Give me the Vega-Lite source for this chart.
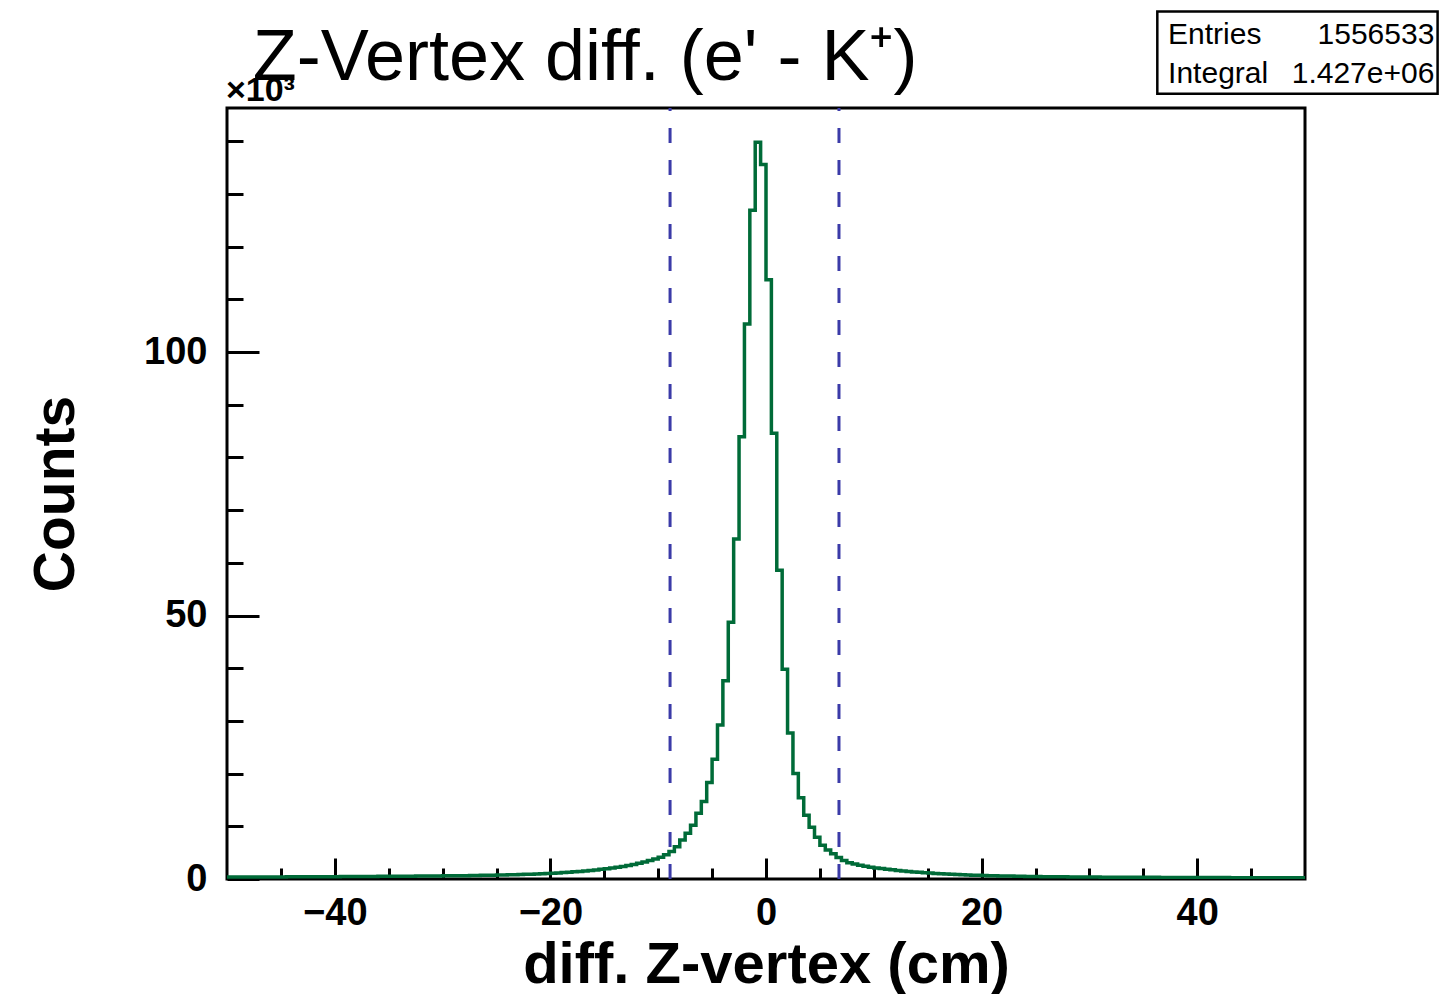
{
  "$schema": "https://vega.github.io/schema/vega-lite/v6.json",
  "width": 1078,
  "height": 771,
  "autosize": {"type": "none"},
  "padding": {"left": 227, "top": 108, "right": 136, "bottom": 115},
  "background": "white",
  "config": {"view": {"stroke": "black", "strokeWidth": 3}, "font": "Liberation Sans"},
  "datasets": {
    "hist": [
      {"lo":-50,"hi":-49.5,"counts":370},{"lo":-49.5,"hi":-49,"counts":370},{"lo":-49,"hi":-48.5,"counts":370},{"lo":-48.5,"hi":-48,"counts":380},
      {"lo":-48,"hi":-47.5,"counts":380},{"lo":-47.5,"hi":-47,"counts":380},{"lo":-47,"hi":-46.5,"counts":390},{"lo":-46.5,"hi":-46,"counts":390},
      {"lo":-46,"hi":-45.5,"counts":400},{"lo":-45.5,"hi":-45,"counts":400},{"lo":-45,"hi":-44.5,"counts":400},{"lo":-44.5,"hi":-44,"counts":410},
      {"lo":-44,"hi":-43.5,"counts":410},{"lo":-43.5,"hi":-43,"counts":420},{"lo":-43,"hi":-42.5,"counts":420},{"lo":-42.5,"hi":-42,"counts":430},
      {"lo":-42,"hi":-41.5,"counts":430},{"lo":-41.5,"hi":-41,"counts":440},{"lo":-41,"hi":-40.5,"counts":440},{"lo":-40.5,"hi":-40,"counts":450},
      {"lo":-40,"hi":-39.5,"counts":450},{"lo":-39.5,"hi":-39,"counts":460},{"lo":-39,"hi":-38.5,"counts":460},{"lo":-38.5,"hi":-38,"counts":470},
      {"lo":-38,"hi":-37.5,"counts":470},{"lo":-37.5,"hi":-37,"counts":480},{"lo":-37,"hi":-36.5,"counts":490},{"lo":-36.5,"hi":-36,"counts":490},
      {"lo":-36,"hi":-35.5,"counts":500},{"lo":-35.5,"hi":-35,"counts":510},{"lo":-35,"hi":-34.5,"counts":510},{"lo":-34.5,"hi":-34,"counts":520},
      {"lo":-34,"hi":-33.5,"counts":530},{"lo":-33.5,"hi":-33,"counts":540},{"lo":-33,"hi":-32.5,"counts":540},{"lo":-32.5,"hi":-32,"counts":550},
      {"lo":-32,"hi":-31.5,"counts":560},{"lo":-31.5,"hi":-31,"counts":570},{"lo":-31,"hi":-30.5,"counts":580},{"lo":-30.5,"hi":-30,"counts":590},
      {"lo":-30,"hi":-29.5,"counts":600},{"lo":-29.5,"hi":-29,"counts":610},{"lo":-29,"hi":-28.5,"counts":620},{"lo":-28.5,"hi":-28,"counts":630},
      {"lo":-28,"hi":-27.5,"counts":640},{"lo":-27.5,"hi":-27,"counts":660},{"lo":-27,"hi":-26.5,"counts":670},{"lo":-26.5,"hi":-26,"counts":690},
      {"lo":-26,"hi":-25.5,"counts":710},{"lo":-25.5,"hi":-25,"counts":730},{"lo":-25,"hi":-24.5,"counts":750},{"lo":-24.5,"hi":-24,"counts":770},
      {"lo":-24,"hi":-23.5,"counts":790},{"lo":-23.5,"hi":-23,"counts":820},{"lo":-23,"hi":-22.5,"counts":850},{"lo":-22.5,"hi":-22,"counts":880},
      {"lo":-22,"hi":-21.5,"counts":920},{"lo":-21.5,"hi":-21,"counts":960},{"lo":-21,"hi":-20.5,"counts":1000},{"lo":-20.5,"hi":-20,"counts":1050},
      {"lo":-20,"hi":-19.5,"counts":1100},{"lo":-19.5,"hi":-19,"counts":1160},{"lo":-19,"hi":-18.5,"counts":1220},{"lo":-18.5,"hi":-18,"counts":1290},
      {"lo":-18,"hi":-17.5,"counts":1360},{"lo":-17.5,"hi":-17,"counts":1440},{"lo":-17,"hi":-16.5,"counts":1530},{"lo":-16.5,"hi":-16,"counts":1620},
      {"lo":-16,"hi":-15.5,"counts":1720},{"lo":-15.5,"hi":-15,"counts":1830},{"lo":-15,"hi":-14.5,"counts":1950},{"lo":-14.5,"hi":-14,"counts":2080},
      {"lo":-14,"hi":-13.5,"counts":2220},{"lo":-13.5,"hi":-13,"counts":2380},{"lo":-13,"hi":-12.5,"counts":2560},{"lo":-12.5,"hi":-12,"counts":2760},
      {"lo":-12,"hi":-11.5,"counts":2980},{"lo":-11.5,"hi":-11,"counts":3220},{"lo":-11,"hi":-10.5,"counts":3500},{"lo":-10.5,"hi":-10,"counts":3800},
      {"lo":-10,"hi":-9.5,"counts":4150},{"lo":-9.5,"hi":-9,"counts":4600},{"lo":-9,"hi":-8.5,"counts":5200},{"lo":-8.5,"hi":-8,"counts":6100},
      {"lo":-8,"hi":-7.5,"counts":7400},{"lo":-7.5,"hi":-7,"counts":8700},{"lo":-7,"hi":-6.5,"counts":10200},{"lo":-6.5,"hi":-6,"counts":12500},
      {"lo":-6,"hi":-5.5,"counts":14700},{"lo":-5.5,"hi":-5,"counts":18300},{"lo":-5,"hi":-4.5,"counts":22700},{"lo":-4.5,"hi":-4,"counts":29200},
      {"lo":-4,"hi":-3.5,"counts":37600},{"lo":-3.5,"hi":-3,"counts":48700},{"lo":-3,"hi":-2.5,"counts":64500},{"lo":-2.5,"hi":-2,"counts":83900},
      {"lo":-2,"hi":-1.5,"counts":105300},{"lo":-1.5,"hi":-1,"counts":126900},{"lo":-1,"hi":-0.5,"counts":139800},{"lo":-0.5,"hi":0,"counts":135600},
      {"lo":0,"hi":0.5,"counts":113700},{"lo":0.5,"hi":1,"counts":84600},{"lo":1,"hi":1.5,"counts":58600},{"lo":1.5,"hi":2,"counts":39800},
      {"lo":2,"hi":2.5,"counts":27700},{"lo":2.5,"hi":3,"counts":20000},{"lo":3,"hi":3.5,"counts":15400},{"lo":3.5,"hi":4,"counts":12100},
      {"lo":4,"hi":4.5,"counts":9800},{"lo":4.5,"hi":5,"counts":7900},{"lo":5,"hi":5.5,"counts":6400},{"lo":5.5,"hi":6,"counts":5500},
      {"lo":6,"hi":6.5,"counts":4800},{"lo":6.5,"hi":7,"counts":4100},{"lo":7,"hi":7.5,"counts":3500},{"lo":7.5,"hi":8,"counts":3100},
      {"lo":8,"hi":8.5,"counts":2850},{"lo":8.5,"hi":9,"counts":2600},{"lo":9,"hi":9.5,"counts":2400},{"lo":9.5,"hi":10,"counts":2250},
      {"lo":10,"hi":10.5,"counts":2100},{"lo":10.5,"hi":11,"counts":1970},{"lo":11,"hi":11.5,"counts":1850},{"lo":11.5,"hi":12,"counts":1740},
      {"lo":12,"hi":12.5,"counts":1630},{"lo":12.5,"hi":13,"counts":1530},{"lo":13,"hi":13.5,"counts":1440},{"lo":13.5,"hi":14,"counts":1350},
      {"lo":14,"hi":14.5,"counts":1270},{"lo":14.5,"hi":15,"counts":1190},{"lo":15,"hi":15.5,"counts":1120},{"lo":15.5,"hi":16,"counts":1060},
      {"lo":16,"hi":16.5,"counts":1000},{"lo":16.5,"hi":17,"counts":950},{"lo":17,"hi":17.5,"counts":900},{"lo":17.5,"hi":18,"counts":850},
      {"lo":18,"hi":18.5,"counts":810},{"lo":18.5,"hi":19,"counts":770},{"lo":19,"hi":19.5,"counts":730},{"lo":19.5,"hi":20,"counts":700},
      {"lo":20,"hi":20.5,"counts":670},{"lo":20.5,"hi":21,"counts":640},{"lo":21,"hi":21.5,"counts":610},{"lo":21.5,"hi":22,"counts":590},
      {"lo":22,"hi":22.5,"counts":570},{"lo":22.5,"hi":23,"counts":550},{"lo":23,"hi":23.5,"counts":530},{"lo":23.5,"hi":24,"counts":510},
      {"lo":24,"hi":24.5,"counts":490},{"lo":24.5,"hi":25,"counts":480},{"lo":25,"hi":25.5,"counts":460},{"lo":25.5,"hi":26,"counts":450},
      {"lo":26,"hi":26.5,"counts":440},{"lo":26.5,"hi":27,"counts":430},{"lo":27,"hi":27.5,"counts":420},{"lo":27.5,"hi":28,"counts":410},
      {"lo":28,"hi":28.5,"counts":400},{"lo":28.5,"hi":29,"counts":390},{"lo":29,"hi":29.5,"counts":380},{"lo":29.5,"hi":30,"counts":370},
      {"lo":30,"hi":30.5,"counts":370},{"lo":30.5,"hi":31,"counts":360},{"lo":31,"hi":31.5,"counts":350},{"lo":31.5,"hi":32,"counts":350},
      {"lo":32,"hi":32.5,"counts":340},{"lo":32.5,"hi":33,"counts":340},{"lo":33,"hi":33.5,"counts":330},{"lo":33.5,"hi":34,"counts":330},
      {"lo":34,"hi":34.5,"counts":320},{"lo":34.5,"hi":35,"counts":320},{"lo":35,"hi":35.5,"counts":310},{"lo":35.5,"hi":36,"counts":310},
      {"lo":36,"hi":36.5,"counts":310},{"lo":36.5,"hi":37,"counts":300},{"lo":37,"hi":37.5,"counts":300},{"lo":37.5,"hi":38,"counts":300},
      {"lo":38,"hi":38.5,"counts":290},{"lo":38.5,"hi":39,"counts":290},{"lo":39,"hi":39.5,"counts":290},{"lo":39.5,"hi":40,"counts":280},
      {"lo":40,"hi":40.5,"counts":280},{"lo":40.5,"hi":41,"counts":280},{"lo":41,"hi":41.5,"counts":270},{"lo":41.5,"hi":42,"counts":270},
      {"lo":42,"hi":42.5,"counts":270},{"lo":42.5,"hi":43,"counts":270},{"lo":43,"hi":43.5,"counts":260},{"lo":43.5,"hi":44,"counts":260},
      {"lo":44,"hi":44.5,"counts":260},{"lo":44.5,"hi":45,"counts":260},{"lo":45,"hi":45.5,"counts":250},{"lo":45.5,"hi":46,"counts":250},
      {"lo":46,"hi":46.5,"counts":250},{"lo":46.5,"hi":47,"counts":250},{"lo":47,"hi":47.5,"counts":240},{"lo":47.5,"hi":48,"counts":240},
      {"lo":48,"hi":48.5,"counts":240},{"lo":48.5,"hi":49,"counts":240},{"lo":49,"hi":49.5,"counts":230},{"lo":49.5,"hi":50,"counts":230}
    ],
    "cuts": [{"cut": -8.9}, {"cut": 6.77}]
  },
  "layer": [
    {
      "data": {"name": "hist"},
      "transform": [{"fold": ["lo", "hi"], "as": ["edge", "xval"]}],
      "mark": {"type": "line", "color": "#006b38", "strokeWidth": 3.5, "clip": true},
      "encoding": {
        "x": {"field": "xval", "type": "quantitative", "scale": {"domain": [-50, 50], "nice": false, "zero": false},
          "axis": {"orient": "bottom", "values": [-40, -20, 0, 20, 40], "tickSize": -21, "tickWidth": 3, "tickColor": "black", "domain": false, "grid": false,
            "labelFont": "Liberation Sans", "labelFontSize": 38, "labelFontWeight": "bold", "labelColor": "black", "labelPadding": 36, "labelFlush": false, "labelOverlap": false,
            "title": "diff. Z-vertex (cm)", "titleFont": "Liberation Sans", "titleFontSize": 58, "titleFontWeight": "bold", "titleColor": "black", "titlePadding": 4}},
        "y": {"field": "counts", "type": "quantitative", "scale": {"domain": [0, 146300], "nice": false, "zero": false},
          "axis": {"orient": "left", "values": [0, 50000, 100000], "labelExpr": "format(datum.value / 1000, 'd')", "tickSize": -32, "tickWidth": 3, "tickColor": "black", "domain": false, "grid": false,
            "labelFont": "Liberation Sans", "labelFontSize": 38, "labelFontWeight": "bold", "labelColor": "black", "labelPadding": 52, "labelOverlap": false,
            "title": "Counts", "titleFont": "Liberation Sans", "titleFontSize": 57, "titleFontWeight": "bold", "titleColor": "black", "titlePadding": 58}},
        "order": [{"field": "lo", "type": "quantitative"}, {"field": "edge", "sort": "descending"}]
      }
    },
    {
      "data": {"name": "cuts"},
      "mark": {"type": "rule", "color": "#3b3ba8", "strokeWidth": 3, "strokeDash": [15, 17]},
      "encoding": {
        "x": {"field": "cut", "type": "quantitative", "scale": {"domain": [-50, 50], "nice": false, "zero": false},
          "axis": {"orient": "bottom", "values": [-45, -35, -30, -25, -15, -10, -5, 5, 10, 15, 25, 30, 35, 45], "tickSize": -11, "tickWidth": 3, "tickColor": "black", "labels": false, "domain": false, "grid": false, "title": null}},
        "y": {"datum": 0, "scale": {"domain": [0, 146300], "nice": false, "zero": false},
          "axis": {"orient": "left", "values": [10000, 20000, 30000, 40000, 60000, 70000, 80000, 90000, 110000, 120000, 130000, 140000], "tickSize": -16, "tickWidth": 3, "tickColor": "black", "labels": false, "domain": false, "grid": false, "title": null}},
        "y2": {"datum": 146300}
      }
    },
    {
      "data": {"values": [{}]},
      "mark": {"type": "text", "align": "left", "baseline": "alphabetic", "font": "Liberation Sans", "fontSize": 34, "fontWeight": "bold", "color": "black"},
      "encoding": {
        "x": {"datum": -50.1, "axis": null},
        "y": {"datum": 147600, "axis": null},
        "text": {"value": "×10³"}
      }
    },
    {
      "data": {"values": [{}]},
      "mark": {"type": "text", "align": "left", "baseline": "alphabetic", "font": "Liberation Sans", "fontSize": 72, "fontWeight": "normal", "color": "black"},
      "encoding": {
        "x": {"datum": -47.6, "axis": null},
        "y": {"datum": 151600, "axis": null},
        "text": {"value": "Z-Vertex diff. (e' - K⁺)"}
      }
    },
    {
      "data": {"values": [{}]},
      "mark": {"type": "rect", "fill": "white", "stroke": "black", "strokeWidth": 2.5},
      "encoding": {
        "x": {"datum": 36.3, "axis": null},
        "x2": {"datum": 62.3},
        "y": {"datum": 164600, "axis": null},
        "y2": {"datum": 149000}
      }
    },
    {
      "data": {"values": [{}]},
      "mark": {"type": "text", "align": "left", "baseline": "alphabetic", "font": "Liberation Sans", "fontSize": 30, "color": "black"},
      "encoding": {"x": {"datum": 37.3, "axis": null}, "y": {"datum": 158500, "axis": null}, "text": {"value": "Entries"}}
    },
    {
      "data": {"values": [{}]},
      "mark": {"type": "text", "align": "right", "baseline": "alphabetic", "font": "Liberation Sans", "fontSize": 30, "color": "black"},
      "encoding": {"x": {"datum": 62.0, "axis": null}, "y": {"datum": 158500, "axis": null}, "text": {"value": "1556533"}}
    },
    {
      "data": {"values": [{}]},
      "mark": {"type": "text", "align": "left", "baseline": "alphabetic", "font": "Liberation Sans", "fontSize": 30, "color": "black"},
      "encoding": {"x": {"datum": 37.3, "axis": null}, "y": {"datum": 151000, "axis": null}, "text": {"value": "Integral"}}
    },
    {
      "data": {"values": [{}]},
      "mark": {"type": "text", "align": "right", "baseline": "alphabetic", "font": "Liberation Sans", "fontSize": 30, "color": "black"},
      "encoding": {"x": {"datum": 62.0, "axis": null}, "y": {"datum": 151000, "axis": null}, "text": {"value": "1.427e+06"}}
    }
  ],
  "resolve": {"axis": {"x": "independent", "y": "independent"}}
}
